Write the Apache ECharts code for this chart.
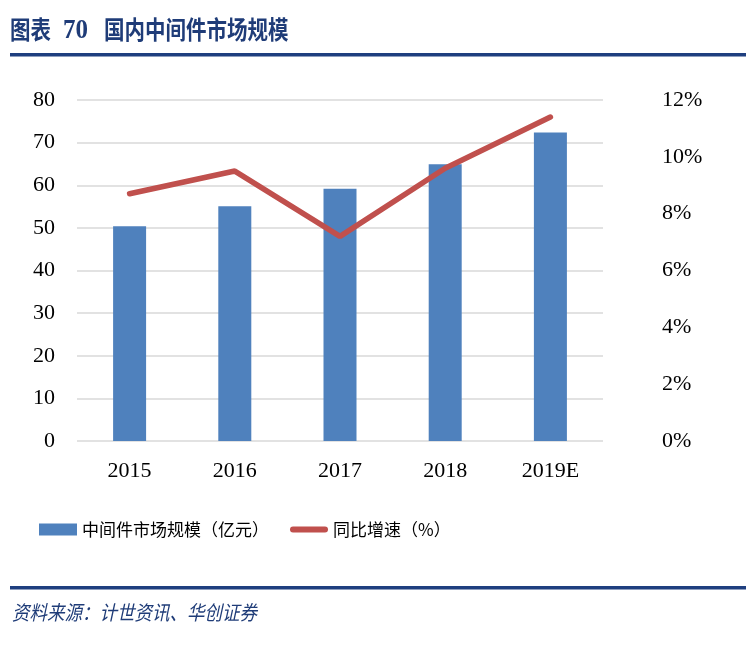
<!DOCTYPE html>
<html><head><meta charset="utf-8">
<script src="https://cdn.jsdelivr.net/npm/echarts@6/dist/echarts.min.js"></script>
<style>html,body{margin:0;padding:0;background:#fff}#c{width:754px;height:647px}</style>
</head><body><div id="c"></div>
<script>
const categories = ['2015', '2016', '2017', '2018', '2019E'];
const marketSize = [50.4, 55.1, 59.2, 64.9, 72.4];
const growth = [8.7, 9.5, 7.2, 9.6, 11.4];
const leftTicks = {min: 0, max: 80, interval: 10};
const rightTicks = {min: 0, max: 12, interval: 2};
const seriesNames = ['中间件市场规模（亿元）', '同比增速（%）'];

const chart = echarts.init(document.getElementById('c'), null, {renderer: 'canvas'});
const serif = '"Liberation Serif","DejaVu Serif",serif';
const cjk = '"Noto Sans CJK SC","Liberation Serif",sans-serif';
chart.setOption({
  backgroundColor: '#fff',
  animation: false,
  grid: {left: 77, right: 151, top: 100, bottom: 206},
  legend: {
    left: 34, top: 516, itemWidth: 38, itemHeight: 12, itemGap: 21,
    textStyle: {fontFamily: cjk, fontSize: 17, color: '#000'},
    data: [
      {name: seriesNames[0], icon: 'rect'},
      {name: seriesNames[1], icon: 'path://M3,0 L35,0 A3,3 0 0 1 35,6 L3,6 A3,3 0 0 1 3,0 Z'}
    ]
  },
  xAxis: {
    type: 'category', data: categories,
    axisLine: {show: false}, axisTick: {show: false},
    axisLabel: {fontFamily: serif, fontSize: 22, color: '#000', margin: 19}
  },
  yAxis: [{
    type: 'value', min: leftTicks.min, max: leftTicks.max, interval: leftTicks.interval,
    axisLine: {show: false}, axisTick: {show: false},
    axisLabel: {fontFamily: serif, fontSize: 22, color: '#000', margin: 22},
    splitLine: {lineStyle: {color: '#d9d9d9', width: 1.5}}
  }, {
    type: 'value', min: rightTicks.min, max: rightTicks.max, interval: rightTicks.interval,
    axisLine: {show: false}, axisTick: {show: false},
    axisLabel: {fontFamily: serif, fontSize: 22, color: '#000', margin: 59, formatter: '{value}%'},
    splitLine: {show: false}
  }],
  series: [{
    name: seriesNames[0], type: 'bar', data: marketSize, barWidth: 33,
    itemStyle: {color: '#4f81bd'}
  }, {
    name: seriesNames[1], type: 'line', yAxisIndex: 1, data: growth,
    symbol: 'none', lineStyle: {color: '#c0504d', width: 5.5, cap: 'round'},
    itemStyle: {color: '#c0504d'}
  }],
  graphic: [
    {type: 'text', x: 10, y: 30, scaleY: 1.2, style: {text: '图表', fill: '#1f3c78', font: 'bold 20.5px ' + cjk, verticalAlign: 'middle'}},
    {type: 'text', x: 63, y: 31, scaleY: 1.1, style: {text: '70', fill: '#1f3c78', font: 'bold 25px ' + serif, verticalAlign: 'middle'}},
    {type: 'text', x: 104, y: 30, scaleY: 1.2, style: {text: '国内中间件市场规模', fill: '#1f3c78', font: 'bold 20.5px ' + cjk, verticalAlign: 'middle'}},
    {type: 'rect', shape: {x: 10, y: 53, width: 736, height: 3.5}, style: {fill: '#1f3f7f'}},
    {type: 'rect', shape: {x: 10, y: 586, width: 736, height: 3.5}, style: {fill: '#1f3f7f'}},
    {type: 'text', x: 12, y: 612, scaleY: 1.15, style: {text: '资料来源：计世资讯、华创证券', fill: '#1f3c78', font: 'italic 17.5px ' + cjk, verticalAlign: 'middle'}}
  ]
});
</script></body></html>
